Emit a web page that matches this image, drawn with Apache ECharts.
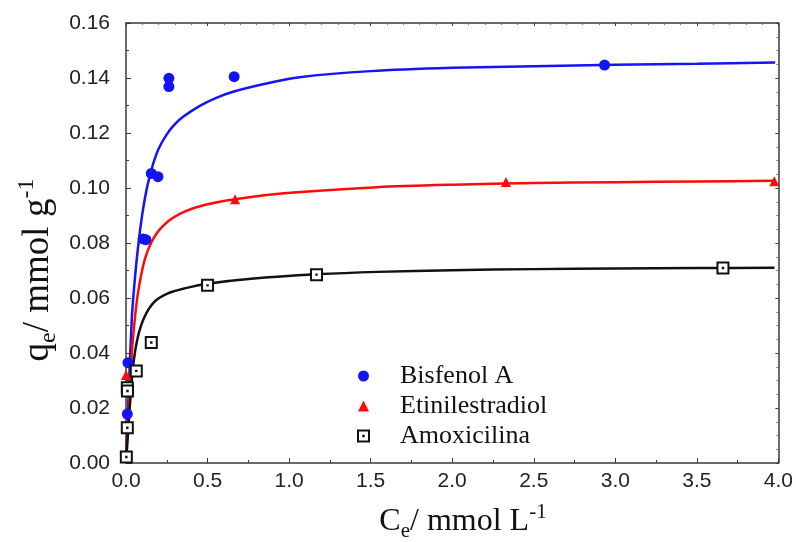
<!DOCTYPE html>
<html>
<head>
<meta charset="utf-8">
<script src="https://cdn.jsdelivr.net/npm/echarts@6/dist/echarts.min.js"></script>
<style>html,body{margin:0;padding:0;background:#fff}#c{width:796px;height:542px}</style>
</head>
<body>
<div id="c"></div>
<script>
// Series names
const seriesNames = ['Bisfenol A', 'Etinilestradiol', 'Amoxicilina'];

// Experimental points [Ce, qe]
const bisfenolPts = [[0, 0.002], [0.008, 0.0178], [0.012, 0.0365], [0.105, 0.0815], [0.122, 0.0812],
  [0.155, 0.1053], [0.196, 0.1041], [0.263, 0.1399], [0.263, 0.1369], [0.663, 0.1405], [2.934, 0.1447]];
const etinilPts = [[0.002, 0.002], [0.0, 0.032], [0.669, 0.0959], [2.33, 0.1022], [3.975, 0.1025]];
const amoxPts = [[0.002, 0.0022], [0.008, 0.0128], [0.008, 0.0274], [0.009, 0.0262], [0.063, 0.0335],
  [0.155, 0.0438], [0.50, 0.0646], [1.168, 0.0685], [3.66, 0.0709]];

// Fitted curves
const bisfenolFit = [[0, 0], [0.016, 0.025], [0.035, 0.052], [0.05, 0.064], [0.073, 0.078], [0.1, 0.0905],
  [0.13, 0.1005], [0.165, 0.1085], [0.2, 0.1143], [0.25, 0.1195], [0.3, 0.1232], [0.35, 0.1259],
  [0.45, 0.1298], [0.55, 0.1327], [0.656, 0.135], [0.86, 0.138], [1.064, 0.1403], [1.5, 0.1425],
  [2.0, 0.1437], [2.5, 0.1443], [3.0, 0.1448], [3.5, 0.1452], [3.98, 0.1456]];
const etinilFit = [[0, 0], [0.015, 0.018], [0.033, 0.0375], [0.05, 0.050], [0.073, 0.0617], [0.114, 0.0738],
  [0.175, 0.0823], [0.257, 0.0878], [0.359, 0.0914], [0.481, 0.0938], [0.669, 0.0959], [0.97, 0.0981],
  [1.54, 0.1003], [2.0, 0.1012], [2.5, 0.1018], [3.0, 0.1021], [3.5, 0.1024], [3.976, 0.1026]];
const amoxFit = [[0, 0], [0.012, 0.0108], [0.025, 0.022], [0.043, 0.035], [0.073, 0.0459], [0.114, 0.0532],
  [0.175, 0.0587], [0.257, 0.0617], [0.359, 0.0635], [0.5, 0.0652], [0.767, 0.0670], [1.168, 0.0686],
  [1.54, 0.0695], [2.0, 0.0701], [2.5, 0.0705], [3.0, 0.0707], [3.5, 0.0709], [3.976, 0.0710]];

// Axis settings
const xMin = 0, xMax = 4, xStep = 0.5;
const yMin = 0, yMax = 0.16, yStep = 0.02;

const blue = '#1414f5', red = '#ff0a0a', black = '#111111';
const squareDot = 'path://M0,0H10V10H0Z M4.8,4.8H5.2V5.2H4.8Z';
const axisColor = '#3a3a3a';
const labelFont = "'Liberation Sans', Arial, Helvetica, sans-serif";
const serifFont = "'Liberation Serif', 'Times New Roman', serif";

const chart = echarts.init(document.getElementById('c'), null, {renderer: 'canvas'});

const baseAxis = {
  axisLine: {show: true, onZero: false, lineStyle: {color: axisColor, width: 1.5}},
  splitLine: {show: false},
  axisTick: {show: true, inside: true, length: 5, lineStyle: {color: axisColor, width: 1}},
  minorTick: {show: true, splitNumber: 2, length: 3, lineStyle: {color: axisColor, width: 1}}
};

function titleRich(big, small) {
  return {
    m: {fontSize: big, fontFamily: serifFont, lineHeight: big * 1.25, verticalAlign: 'middle', fill: '#111'},
    s: {fontSize: small, fontFamily: serifFont, lineHeight: small, verticalAlign: 'bottom', fill: '#111'},
    p: {fontSize: small, fontFamily: serifFont, lineHeight: small * 1.15, verticalAlign: 'top', fill: '#111'}
  };
}

chart.setOption({
  animation: false,
  backgroundColor: '#fff',
  grid: {left: 126, right: 16, top: 23, bottom: 79, containLabel: false},
  xAxis: [
    Object.assign({}, baseAxis, {
      type: 'value', min: xMin, max: xMax, interval: xStep, position: 'bottom',
      axisLabel: {margin: 8, color: '#222', fontSize: 21, fontFamily: labelFont,
        formatter: v => v.toFixed(1)}
    }),
    Object.assign({}, baseAxis, {
      type: 'value', min: xMin, max: xMax, interval: xStep, position: 'top',
      axisLabel: {show: false},
      axisTick: {show: true, inside: true, length: 3, lineStyle: {color: axisColor}},
      minorTick: {show: true, splitNumber: 5, length: 2, lineStyle: {color: '#777'}}
    })
  ],
  yAxis: [
    Object.assign({}, baseAxis, {
      type: 'value', min: yMin, max: yMax, interval: yStep, position: 'left',
      axisLabel: {margin: 16, color: '#222', fontSize: 21, fontFamily: labelFont,
        formatter: v => v.toFixed(2)}
    }),
    Object.assign({}, baseAxis, {
      type: 'value', min: yMin, max: yMax, interval: yStep, position: 'right',
      axisLabel: {show: false},
      axisTick: {show: true, inside: true, length: 3, lineStyle: {color: axisColor}},
      minorTick: {show: true, splitNumber: 4, length: 2, lineStyle: {color: '#777'}}
    })
  ],
  legend: {
    data: seriesNames,
    orient: 'vertical',
    left: 352, top: 358,
    itemWidth: 11, itemHeight: 11, itemGap: 4,
    textStyle: {fontSize: 26, fontFamily: serifFont, color: '#111', padding: [0, 0, 0, 26]}
  },
  graphic: [
    {
      type: 'text', x: 463, y: 522,
      style: {
        text: '{m|C}{s|e}{m|/ mmol L}{p|-1}',
        align: 'center', verticalAlign: 'middle', fill: '#111',
        rich: titleRich(32, 21)
      }
    },
    {
      type: 'text', x: 38, y: 270, rotation: Math.PI / 2,
      style: {
        text: '{m|q}{s|e}{m|/ mmol g}{p|-1}',
        align: 'center', verticalAlign: 'middle', fill: '#111',
        rich: titleRich(37, 24)
      }
    }
  ],
  series: [
    {name: 'fitB', type: 'line', data: bisfenolFit, smooth: 0.3, showSymbol: false, symbol: 'none',
      lineStyle: {color: blue, width: 2.5}, z: 2, silent: true},
    {name: 'fitE', type: 'line', data: etinilFit, smooth: 0.3, showSymbol: false, symbol: 'none',
      lineStyle: {color: red, width: 2.5}, z: 2, silent: true},
    {name: 'fitA', type: 'line', data: amoxFit, smooth: 0.3, showSymbol: false, symbol: 'none',
      lineStyle: {color: black, width: 2.5}, z: 2, silent: true},
    {name: seriesNames[0], type: 'scatter', data: bisfenolPts, symbol: 'circle', symbolSize: 11,
      itemStyle: {color: blue, opacity: 1}, z: 5},
    {name: seriesNames[1], type: 'scatter', data: etinilPts, symbol: 'triangle', symbolSize: 10,
      itemStyle: {color: red, opacity: 1}, z: 6},
    {name: seriesNames[2], type: 'scatter', data: amoxPts, symbol: squareDot, symbolSize: 11,
      itemStyle: {color: '#fff', borderColor: black, borderWidth: 2, opacity: 1}, z: 7}
  ]
});
</script>
</body>
</html>
